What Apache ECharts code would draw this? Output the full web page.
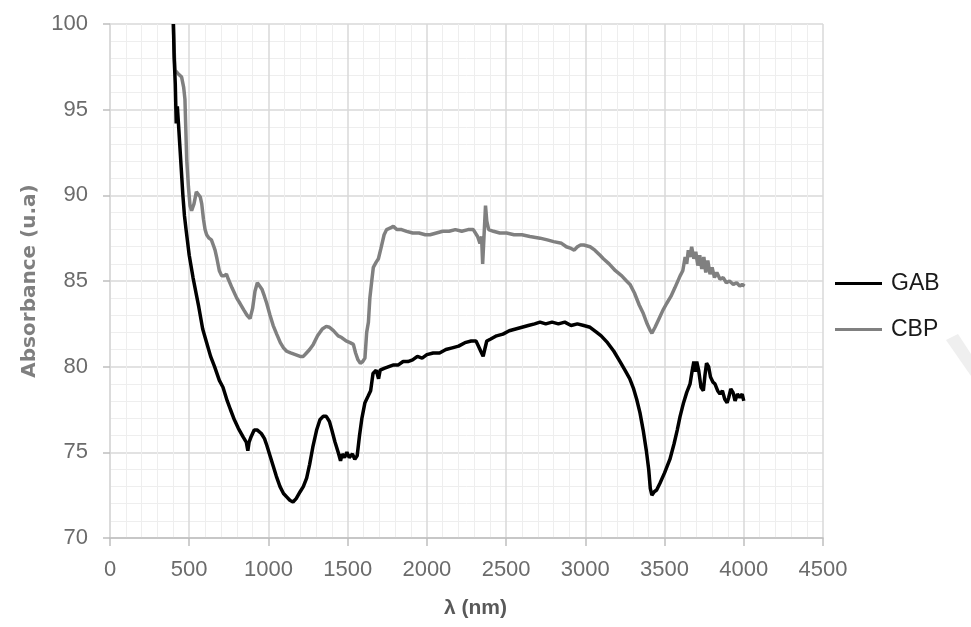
<!DOCTYPE html>
<html>
<head>
<meta charset="utf-8">
<script src="https://cdn.jsdelivr.net/npm/echarts@6/dist/echarts.min.js"></script>
<style>
html,body{margin:0;padding:0;background:#fff;}
#chart{width:971px;height:627px;}
</style>
</head>
<body>
<div id="chart"></div>
<script>
var xTicks = [0, 500, 1000, 1500, 2000, 2500, 3000, 3500, 4000, 4500];
var yTicks = [70, 75, 80, 85, 90, 95, 100];
var seriesNames = ['GAB', 'CBP'];

var gabX = [400,405,412,418,425,432,440,450,460,470,480,500,524,545,560,585,610,635,660,690,713,740,760,785,810,840,860,870,878,890,910,930,955,975,990,1010,1030,1050,1073,1095,1115,1135,1155,1175,1200,1220,1241,1260,1280,1304,1325,1345,1365,1385,1400,1420,1440,1455,1465,1480,1495,1510,1530,1545,1560,1575,1590,1609,1630,1645,1660,1680,1695,1705,1730,1760,1790,1820,1850,1880,1910,1940,1970,2000,2040,2080,2120,2160,2200,2240,2280,2310,2325,2340,2355,2365,2378,2400,2440,2480,2520,2560,2600,2640,2680,2714,2750,2790,2830,2870,2910,2950,2990,3030,3072,3100,3140,3180,3219,3250,3280,3305,3324,3345,3365,3385,3400,3410,3420,3435,3450,3471,3500,3534,3560,3580,3598,3620,3640,3661,3675,3685,3695,3703,3715,3730,3745,3755,3765,3778,3790,3805,3818,3835,3850,3865,3880,3895,3905,3918,3932,3945,3960,3975,3990,4000];
var gabY = [100,98,96.5,94.2,95.2,94.2,93,91.5,90,88.8,88,86.5,85.2,84.2,83.5,82.2,81.4,80.6,80,79.2,78.8,78,77.5,76.9,76.4,75.9,75.6,75.1,75.6,75.9,76.3,76.3,76.1,75.8,75.4,74.8,74.2,73.6,73.0,72.6,72.4,72.2,72.1,72.3,72.7,73.0,73.5,74.3,75.3,76.3,76.9,77.1,77.1,76.8,76.3,75.6,75.0,74.5,74.9,74.7,75.0,74.7,74.9,74.6,74.8,76.0,77.0,77.9,78.3,78.6,79.6,79.8,79.3,79.8,79.9,80.0,80.1,80.1,80.3,80.3,80.4,80.6,80.5,80.7,80.8,80.8,81.0,81.1,81.2,81.4,81.5,81.5,81.2,80.9,80.6,81.0,81.5,81.6,81.8,81.9,82.1,82.2,82.3,82.4,82.5,82.6,82.5,82.6,82.5,82.6,82.4,82.5,82.4,82.3,82.0,81.8,81.4,80.9,80.3,79.8,79.3,78.7,78.1,77.3,76.3,75.1,74.0,72.9,72.5,72.7,72.8,73.2,73.8,74.6,75.5,76.3,77.1,77.9,78.5,79.0,79.8,80.3,79.7,80.3,79.8,78.8,78.6,79.5,80.2,80.0,79.4,79.1,79.0,78.6,78.4,78.6,78.1,77.9,78.2,78.7,78.5,78.0,78.4,78.2,78.4,78.0];

var cbpX = [400,405,410,430,452,465,473,478,484,495,505,515,530,545,557,570,579,590,600,610,625,640,652,663,675,690,705,720,735,747,770,800,820,845,865,884,900,915,930,940,960,975,989,1010,1030,1052,1075,1095,1115,1140,1170,1200,1220,1240,1260,1283,1310,1340,1365,1385,1410,1440,1462,1490,1515,1536,1550,1565,1580,1595,1609,1620,1631,1640,1652,1662,1680,1694,1710,1730,1746,1770,1788,1810,1840,1872,1910,1950,1990,2020,2060,2100,2140,2180,2220,2260,2293,2320,2335,2345,2352,2360,2370,2378,2390,2420,2460,2503,2550,2600,2650,2714,2760,2800,2850,2880,2910,2930,2950,2970,2990,3030,3060,3093,3114,3150,3190,3230,3260,3282,3310,3340,3366,3390,3410,3420,3440,3465,3490,3514,3540,3565,3598,3615,3630,3640,3650,3660,3671,3685,3697,3710,3722,3735,3748,3760,3773,3787,3800,3815,3830,3850,3870,3890,3910,3934,3955,3975,3990,4005];
var cbpY = [100,98.5,97.3,97.1,96.9,96.3,95.6,94,92.1,90.5,89.4,89.1,89.5,90.2,90.3,89.9,89.5,88.6,88.0,87.7,87.5,87.4,87.1,86.8,86.3,85.6,85.3,85.3,85.4,85.1,84.6,84.0,83.7,83.3,83.0,82.8,83.4,84.4,84.9,84.8,84.5,84.1,83.7,83.0,82.4,81.9,81.4,81.1,80.9,80.8,80.7,80.6,80.6,80.8,81.0,81.3,81.8,82.2,82.35,82.3,82.1,81.8,81.7,81.5,81.4,81.3,80.8,80.4,80.2,80.3,80.5,82.0,82.6,84.0,85.0,85.8,86.1,86.3,86.9,87.7,88.0,88.1,88.2,88.0,88.0,87.9,87.8,87.8,87.7,87.7,87.8,87.9,87.9,88.0,87.9,88.0,88.0,87.6,87.2,87.6,86.0,87.5,89.4,88.5,88.0,87.9,87.8,87.8,87.7,87.7,87.6,87.5,87.4,87.3,87.2,87.0,86.9,86.8,87.0,87.1,87.1,87.0,86.8,86.5,86.3,86.0,85.6,85.3,85.0,84.8,84.3,83.6,83.1,82.5,82.1,81.95,82.3,82.8,83.3,83.7,84.1,84.6,85.3,85.6,86.4,86.0,86.8,86.4,87.0,86.3,86.7,85.9,86.5,85.7,86.4,85.5,86.2,85.4,85.8,85.2,85.5,85.1,85.2,84.9,85.0,84.8,84.9,84.7,84.8,84.7];

function zip(xs, ys) { return xs.map(function (x, i) { return [x, ys[i]]; }); }
function plain(v) { return String(v); }

var FONT = 'Liberation Sans';
var chart = echarts.init(document.getElementById('chart'), null, {renderer: 'canvas'});
chart.setOption({
  animation: false,
  backgroundColor: '#ffffff',
  textStyle: {fontFamily: FONT},
  grid: {left: 110, right: 148, top: 24, bottom: 89, containLabel: false},
  legend: {
    orient: 'vertical',
    left: 830,
    top: 267,
    icon: 'rect',
    itemWidth: 47,
    itemHeight: 3,
    itemGap: 23,
    data: seriesNames,
    textStyle: {fontFamily: FONT, fontSize: 23, color: '#1a1a1a', padding: [0, 0, 0, 4]}
  },
  xAxis: {
    type: 'value',
    min: xTicks[0],
    max: xTicks[xTicks.length - 1],
    interval: xTicks[1] - xTicks[0],
    name: 'λ (nm)',
    nameLocation: 'middle',
    nameGap: 60,
    nameTextStyle: {fontFamily: FONT, fontSize: 21, fontWeight: 'bold', color: '#595959', padding: [0, 0, 0, 18]},
    axisLine: {show: true, lineStyle: {color: '#bfbfbf', width: 1.5}},
    axisTick: {show: true, length: 8, lineStyle: {color: '#bfbfbf', width: 1.5}},
    axisLabel: {fontFamily: FONT, fontSize: 22, color: '#6b6b6b', margin: 21, formatter: plain},
    splitLine: {show: true, lineStyle: {color: '#d9d9d9', width: 1.5}},
    minorTick: {show: false, splitNumber: 5},
    minorSplitLine: {show: true, lineStyle: {color: '#eeeeee', width: 1}}
  },
  yAxis: {
    type: 'value',
    min: yTicks[0],
    max: yTicks[yTicks.length - 1],
    interval: yTicks[1] - yTicks[0],
    name: 'Absorbance (u.a)',
    nameLocation: 'middle',
    nameRotate: 90,
    nameGap: 70,
    nameTextStyle: {fontFamily: 'DejaVu Sans', fontSize: 20, fontWeight: 'bold', color: '#7f7f7f'},
    axisLine: {show: true, lineStyle: {color: '#d9d9d9', width: 1.5}},
    axisTick: {show: true, length: 7, lineStyle: {color: '#bfbfbf', width: 1.5}},
    axisLabel: {fontFamily: FONT, fontSize: 22, color: '#6b6b6b', margin: 22, formatter: plain},
    splitLine: {show: true, lineStyle: {color: '#d9d9d9', width: 1.5}},
    minorTick: {show: false, splitNumber: 5},
    minorSplitLine: {show: true, lineStyle: {color: '#eeeeee', width: 1}}
  },
  series: [
    {
      name: seriesNames[0],
      type: 'line',
      data: zip(gabX, gabY),
      symbol: 'none',
      showSymbol: false,
      lineStyle: {color: '#000000', width: 3.5},
      itemStyle: {color: '#000000'},
      z: 3
    },
    {
      name: seriesNames[1],
      type: 'line',
      data: zip(cbpX, cbpY),
      symbol: 'none',
      showSymbol: false,
      lineStyle: {color: '#808080', width: 3.5},
      itemStyle: {color: '#808080'},
      z: 2
    }
  ],
  graphic: [
    {
      type: 'polygon',
      silent: true,
      shape: {points: [[946, 340], [958, 334], [971, 354], [971, 376]]},
      style: {fill: '#efefef'}
    }
  ]
});
</script>
</body>
</html>
